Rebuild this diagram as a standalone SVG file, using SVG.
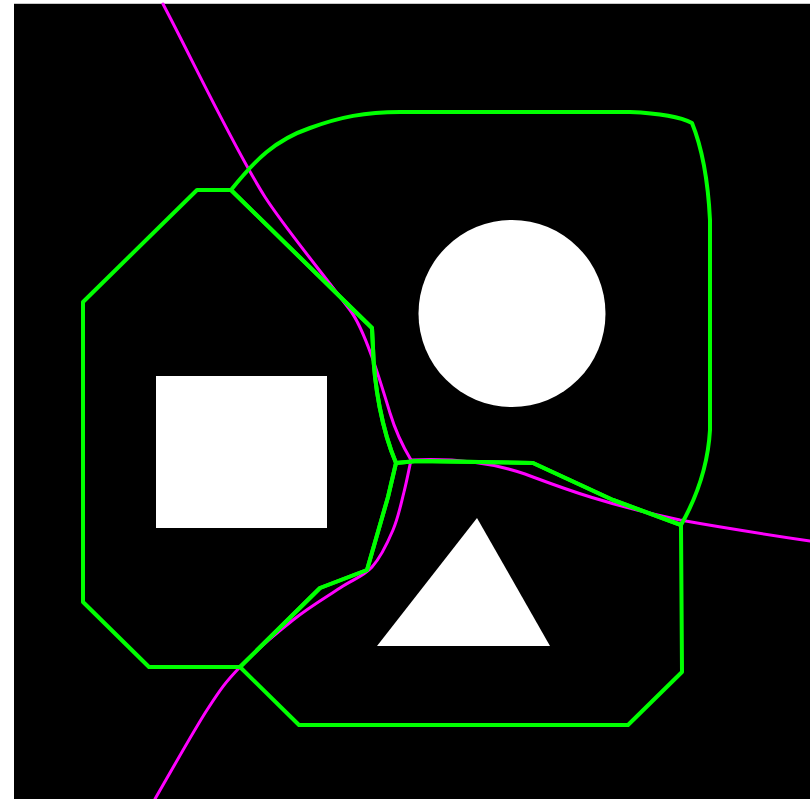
<svg xmlns="http://www.w3.org/2000/svg" width="810" height="799" viewBox="0 0 810 799">
  <style>
    .shape { fill: #ffffff; stroke: none; }
    .region { fill: none; stroke: #00ff00; stroke-width: 4; stroke-linejoin: round; }
    .curve { fill: none; stroke: #ff00ff; stroke-width: 3; stroke-linejoin: round; stroke-linecap: round; }
  </style>
  <rect x="0" y="0" width="810" height="799" fill="#ffffff"/>
  <rect x="14" y="3" width="796" height="1" fill="#c8c8c8"/>
  <rect x="14" y="4" width="796" height="795" fill="#000000"/>

  <g id="shapes">
    <g id="square"><rect class="shape" x="156" y="376" width="171" height="152"/></g>
    <g id="circle"><circle class="shape" cx="512" cy="313.5" r="93.5"/></g>
    <g id="triangle"><polygon class="shape" points="477,518 550,646 377,646"/></g>
  </g>

  <g id="connectors">
    <path class="curve" d="M163,4 C190,55 235,150 265,197 C285,228 320,270 350,310 C365,330 380,380 390,413 C397,436 405,450 411,460"/>
    <path class="curve" d="M411,460 C409.8,465.3 407,480.3 404,492 C401,503.7 398.3,517.5 393,530 C387.7,542.5 380.8,557.3 372,567 C363.2,576.7 353.2,579.2 340,588 C326.8,596.8 309.7,606.8 293,620 C276.3,633.2 254.3,652 240,667 C225.7,682 221.2,688 207,710 C192.8,732 163.7,784.2 155,799"/>
    <path class="curve" d="M411,460 C450,458 490,462 525,474 C560,487 600,503 680,520 C730,529 770,535 810,541"/>
  </g>

  <g id="region-square">
    <path class="region" d="M197,190 L231,190 L372,328 L373,348 C374,385 382,430 396,463 L388,497 L367,570 L320,588 L240,667 L149,667 L83,602 L83,302 Z"/>
  </g>
  <g id="region-circle">
    <path class="region" d="M231,190 C255,160 275,140 310,128 C340,117 365,112 400,112 L630,112 Q675,114 692,123 C703,150 708,180 710,220 L710,430 C708,465 698,495 681,525 L613,500 L533,463 L417,461 L396,463 C382,430 374,385 373,348 L372,328 Z"/>
  </g>
  <g id="region-triangle">
    <path class="region" d="M396,463 L417,461 L533,463 L613,500 L681,525 L682,672 L628,725 L299,725 L240,667 L320,588 L367,570 L388,497 Z"/>
  </g>
</svg>
